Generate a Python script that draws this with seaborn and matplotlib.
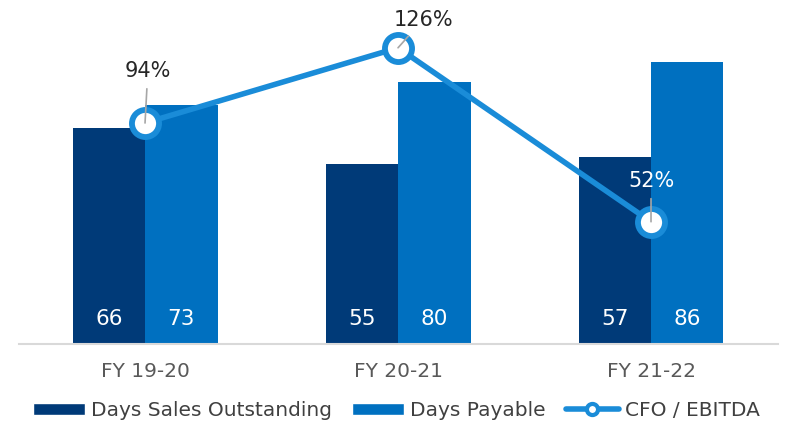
"""Days Sales Outstanding / Days Payable / CFO-EBITDA chart"""
import numpy as np
import matplotlib
matplotlib.use('Agg')
import matplotlib.pyplot as plt
from matplotlib.lines import Line2D
from matplotlib.patches import Patch
import seaborn as sns
import pandas as pd

# data
years = ['FY 19-20', 'FY 20-21', 'FY 21-22']
dso = [66, 55, 57]
dpo = [73, 80, 86]
cfo_ebitda = [94, 126, 52]

DARK = '#003A78'
BLUE = '#0070C0'
LINE = '#1A8CD8'

sns.set_style('white')
plt.rcParams['font.family'] = ['DejaVu Sans']

df = pd.DataFrame({
    'year': years * 2,
    'days': dso + dpo,
    'metric': ['Days Sales Outstanding'] * 3 + ['Days Payable'] * 3,
})

fig = plt.figure(figsize=(7.92, 4.24), dpi=100)
ax = fig.add_axes([0.0234, 0.1887, 0.9583, 0.7873])

sns.barplot(data=df, x='year', y='days', hue='metric', ax=ax,
            palette=[DARK, BLUE], width=0.573, saturation=1, legend=False,
            linewidth=0, edgecolor='none')
ax.set_ylim(0, 101.8)
ax.set_xlim(-0.5, 2.5)

# bar values at the bottom of each bar
for cont in ax.containers:
    for rect, v in zip(cont, cont.datavalues):
        ax.text(rect.get_x() + rect.get_width() / 2, 7.5, f'{int(v)}',
                ha='center', va='center', color='white', fontsize=15.5)

ax.set_xlabel('')
ax.set_ylabel('')
ax.set_yticks([])
ax.tick_params(axis='x', length=0, labelsize=14.5, labelcolor='#595959', pad=13)
for s in ['top', 'right', 'left']:
    ax.spines[s].set_visible(False)
ax.spines['bottom'].set_color('#D9D9D9')
ax.spines['bottom'].set_linewidth(1.5)

# secondary axis: CFO / EBITDA line
ax2 = ax.twinx()
sns.lineplot(x=[0, 1, 2], y=cfo_ebitda, ax=ax2, color=LINE, linewidth=4,
             marker='o', markersize=19.5, markerfacecolor='white',
             markeredgecolor=LINE, markeredgewidth=4.2, zorder=5)
ax2.set_ylim(0, 142)
ax2.set_yticks([])
for s in ['top', 'right', 'left', 'bottom']:
    ax2.spines[s].set_visible(False)

offsets = [(2, 30), (18, 13), (0, 22)]
colors = ['#262626', '#262626', 'white']
for i, (v, off, c) in enumerate(zip(cfo_ebitda, offsets, colors)):
    ax2.annotate(f'{v}%', xy=(i, v), xytext=off, textcoords='offset points',
                 ha='center', va='bottom', fontsize=15, color=c,
                 arrowprops=dict(arrowstyle='-', color='#A6A6A6', lw=1.2,
                                 shrinkA=3, shrinkB=0), zorder=6)

handles = [
    Patch(facecolor=DARK, label='Days Sales Outstanding'),
    Patch(facecolor=BLUE, label='Days Payable'),
    Line2D([0], [0], color=LINE, lw=4, marker='o', markersize=8,
           markerfacecolor='white', markeredgecolor=LINE, markeredgewidth=3,
           label='CFO / EBITDA'),
]
fig.legend(handles=handles, loc='center', bbox_to_anchor=(0.5, 0.032),
           ncol=3, frameon=False, fontsize=14.5, handlelength=2.6,
           handleheight=0.55, handletextpad=0.3, columnspacing=1.0,
           labelcolor='#404040')

fig.savefig('out.png', dpi=100)
